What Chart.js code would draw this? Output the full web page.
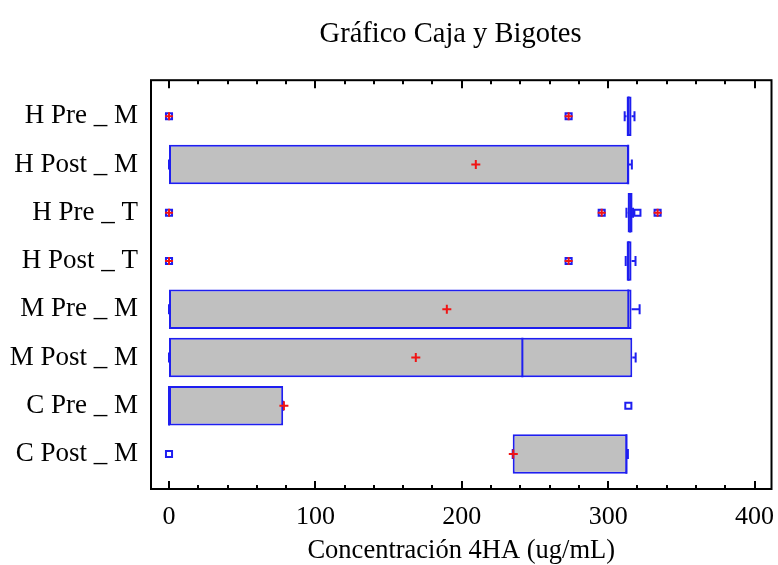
<!DOCTYPE html>
<html>
<head>
<meta charset="utf-8">
<script src="https://cdn.jsdelivr.net/npm/chart.js@4.4.1/dist/chart.umd.min.js"></script>
<style>
  html, body { margin: 0; padding: 0; background: #fff; }
  #wrap { width: 778px; height: 565px; }
</style>
</head>
<body>
<div id="wrap"><canvas id="chart" width="778" height="565"></canvas></div>
<script>
// datos
const categories = ['H Pre _ M', 'H Post _ M', 'H Pre _ T', 'H Post _ T', 'M Pre _ M', 'M Post _ M', 'C Pre _ M', 'C Post _ M'];
const boxLow = [312.6, 0, 313.3, 312.6, 0, 0, 0, 234.8];
const boxHigh = [316, 314, 316.7, 316, 316, 316.5, 78, 313.1];
const medians = [314, 313.7, 315, 314, 313.8, 241.4, 0, 312.5];
const whiskerLow = [311.3, 0, 312.5, 312, 0, 0, 0, 234.8];
const whiskerHigh = [318, 316.2, 317, 318.7, 321.5, 318.8, 78, 313.5];
const means = [null, 209.6, null, null, 189.8, 168.6, 78.5, 235.2];
const nearOutliers = [[], [], [320], [], [], [], [313.8], [0]];
const farOutliers = [[0, 273], [], [0, 295.6, 333.8], [0, 273], [], [], [], []];
const xTicks = [0, 100, 200, 300, 400];

const BLUE = 'rgb(30,30,240)';
const RED = 'rgb(240,20,20)';
const FONT = 'Liberation Serif';

const toPoints = (lists) => lists.flatMap((vals, i) => vals.map(v => ({ x: v, y: i })));
const meanPts = means.map((v, i) => v === null ? null : { x: v, y: i }).filter(p => p);

// bigotes y medianas, dibujados justo después de las cajas
const whiskerPlugin = {
  id: 'whiskers',
  afterDatasetDraw(chart, args) {
    if (args.meta.type !== 'bar') return;
    const { ctx, scales: { x, y } } = chart;
    const half = args.meta.data[0].height / 2;
    ctx.save();
    ctx.strokeStyle = BLUE;
    ctx.lineWidth = 2;
    categories.forEach((c, i) => {
      const yc = y.getPixelForValue(i);
      const lo = x.getPixelForValue(whiskerLow[i]);
      const hi = x.getPixelForValue(whiskerHigh[i]);
      const q1 = x.getPixelForValue(boxLow[i]);
      const q3 = x.getPixelForValue(boxHigh[i]);
      const md = x.getPixelForValue(medians[i]);
      ctx.beginPath();
      ctx.moveTo(lo, yc); ctx.lineTo(q1, yc);
      ctx.moveTo(q3, yc); ctx.lineTo(hi, yc);
      ctx.moveTo(lo, yc - 5); ctx.lineTo(lo, yc + 5);
      ctx.moveTo(hi, yc - 5); ctx.lineTo(hi, yc + 5);
      ctx.moveTo(md, yc - half); ctx.lineTo(md, yc + half);
      ctx.stroke();
    });
    ctx.restore();
  }
};

// marco y marcas hacia dentro arriba y abajo
const framePlugin = {
  id: 'frame',
  afterDraw(chart) {
    const { ctx, chartArea: a, scales: { x } } = chart;
    ctx.save();
    ctx.strokeStyle = '#000';
    ctx.lineWidth = 2;
    ctx.strokeRect(a.left, a.top, a.right - a.left, a.bottom - a.top);
    ctx.beginPath();
    for (let v = 0; v <= 400; v += 20) {
      const px = Math.round(x.getPixelForValue(v));
      const len = v % 100 === 0 ? 8 : 4;
      ctx.moveTo(px, a.top); ctx.lineTo(px, a.top + len);
      ctx.moveTo(px, a.bottom); ctx.lineTo(px, a.bottom - len);
    }
    ctx.stroke();
    ctx.restore();
  }
};

const noPad = s => { s.paddingLeft = 0; s.paddingRight = 0; s.paddingTop = 0; s.paddingBottom = 0; };

new Chart(document.getElementById('chart'), {
  type: 'bar',
  data: {
    datasets: [
      {
        type: 'scatter', data: toPoints(farOutliers),
        pointStyle: 'cross', radius: 4, borderColor: RED, borderWidth: 2
      },
      {
        type: 'scatter', data: meanPts,
        pointStyle: 'cross', radius: 4.5, borderColor: RED, borderWidth: 2
      },
      {
        type: 'scatter', data: toPoints(farOutliers).concat(toPoints(nearOutliers)),
        pointStyle: 'rect', radius: 4.3, borderColor: BLUE, backgroundColor: '#fff', borderWidth: 2
      },
      {
        type: 'bar', indexAxis: 'y',
        data: categories.map((c, i) => ({ x: [boxLow[i], boxHigh[i]], y: i })),
        backgroundColor: '#c0c0c0', borderColor: BLUE, borderWidth: 2, borderSkipped: false,
        barPercentage: 0.82, categoryPercentage: 1
      }
    ]
  },
  options: {
    responsive: false,
    animation: false,
    layout: { padding: { left: 0, right: 6, top: 0, bottom: 0 } },
    plugins: {
      legend: { display: false },
      tooltip: { enabled: false },
      title: {
        display: true, text: 'Gráfico Caja y Bigotes\u00a0\u00a0\u00a0', fullSize: false,
        color: '#000', font: { family: FONT, size: 28.5, weight: 'normal' },
        padding: { top: 17, bottom: 29 }
      }
    },
    scales: {
      x: {
        type: 'linear', position: 'bottom', min: -12.3, max: 411.6, offset: false,
        afterBuildTicks: s => { s.ticks = xTicks.map(v => ({ value: v })); },
        afterFit: s => { s.height = 76; noPad(s); },
        grid: { display: false, drawTicks: false, offset: false },
        border: { display: false },
        ticks: { color: '#000', font: { family: FONT, size: 26 }, padding: 13, maxRotation: 0 },
        title: {
          display: true, text: 'Concentración 4HA (ug/mL)', color: '#000',
          font: { family: FONT, size: 26.5, lineHeight: 1.05 }, padding: { top: 0, bottom: 0 }
        }
      },
      y: {
        type: 'linear', position: 'left', reverse: true, min: -0.7456, max: 7.725, offset: false,
        afterBuildTicks: s => { s.ticks = categories.map((c, i) => ({ value: i })); },
        afterFit: s => { s.width = 151; noPad(s); },
        grid: { display: false, drawTicks: false, offset: false },
        border: { display: false },
        ticks: { color: '#000', font: { family: FONT, size: 27 }, padding: 13, callback: v => categories[v] }
      }
    }
  },
  plugins: [whiskerPlugin, framePlugin]
});
</script>
</body>
</html>
